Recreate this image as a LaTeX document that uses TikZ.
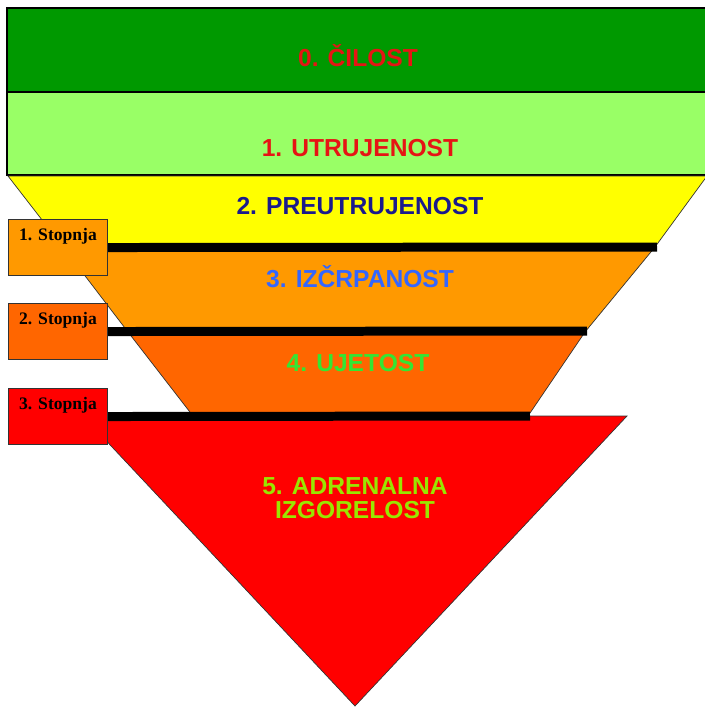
\documentclass[tikz,border=0pt]{standalone}
\usepackage{fontspec}
\setmainfont{Liberation Serif}
\setsansfont{Liberation Sans}
\definecolor{stagezero}{RGB}{0,153,0}
\definecolor{stageone}{RGB}{153,255,102}
\definecolor{stagetwo}{RGB}{255,255,0}
\definecolor{stagethree}{RGB}{255,153,0}
\definecolor{stagefour}{RGB}{255,102,0}
\definecolor{stagefive}{RGB}{255,0,0}
\definecolor{txtred}{RGB}{230,20,20}
\definecolor{txtnavy}{RGB}{26,26,140}
\definecolor{txtblue}{RGB}{51,102,255}
\definecolor{txtgreen}{RGB}{51,230,51}
\definecolor{txtlime}{RGB}{153,230,0}
\begin{document}
\begin{tikzpicture}[x=0.02cm,y=-0.02cm,
    band/.style={draw=black,line width=0.8pt},
    slant/.style={draw=black!80,line width=0.4pt},
    level/.style={font=\sffamily\bfseries\fontsize{14}{13.6}\selectfont,anchor=base,inner sep=0pt},
    stopbox/.style={draw=black!80,line width=0.6pt,anchor=north west,minimum width=1.98cm,
      inner xsep=0pt,inner ysep=0pt,text height=0.42cm,text depth=0.70cm,
      font=\rmfamily\bfseries\fontsize{10}{12}\selectfont},
    bar/.style={black,line width=0.18cm}]
  \useasboundingbox (0,0) rectangle (705,708);
  \draw[band,fill=stagezero] (7,8) rectangle (720,92);
  \draw[band,fill=stageone] (7,92) rectangle (720,175);
  \draw[slant,fill=stagetwo] (8,176) -- (707,176) -- (655,247) -- (63,247) -- cycle;
  \draw[slant,fill=stagethree] (63,247) -- (655,247) -- (585,332) -- (128,332) -- cycle;
  \draw[slant,fill=stagefour] (128,332) -- (585,332) -- (528,416) -- (193,416) -- cycle;
  \draw[slant,fill=stagefive] (83,416) -- (627,416) -- (355,706) -- cycle;
  \node[stopbox,fill=stagethree] (s1) at (8,219) {1. Stopnja};
  \node[stopbox,fill=stagefour] (s2) at (8,303) {2. Stopnja};
  \node[stopbox,fill=stagefive] (s3) at (8,388) {3. Stopnja};
  \coordinate (e1) at (657,247);
  \coordinate (e2) at (587,331);
  \coordinate (e3) at (530,416);
  \begin{scope}[bar]
    \draw (s1.east) -- (e1);
    \draw (s2.east) -- (e2);
    \draw (s3.east) -- (e3);
  \end{scope}
  \node[level,text=txtred] (l0) at (358,66) {0. ČILOST};
  \node[level,text=txtred] (l1) at (360,156) {1. UTRUJENOST};
  \node[level,text=txtnavy] (l2) at (360,214) {2. PREUTRUJENOST};
  \node[level,text=txtblue] (l3) at (360,287) {3. IZČRPANOST};
  \node[level,text=txtgreen] (l4) at (358,371) {4. UJETOST};
  \node[level,text=txtlime,anchor=center,align=center] (l5) at (355,498) {5. ADRENALNA\\IZGORELOST};
\end{tikzpicture}
\end{document}
